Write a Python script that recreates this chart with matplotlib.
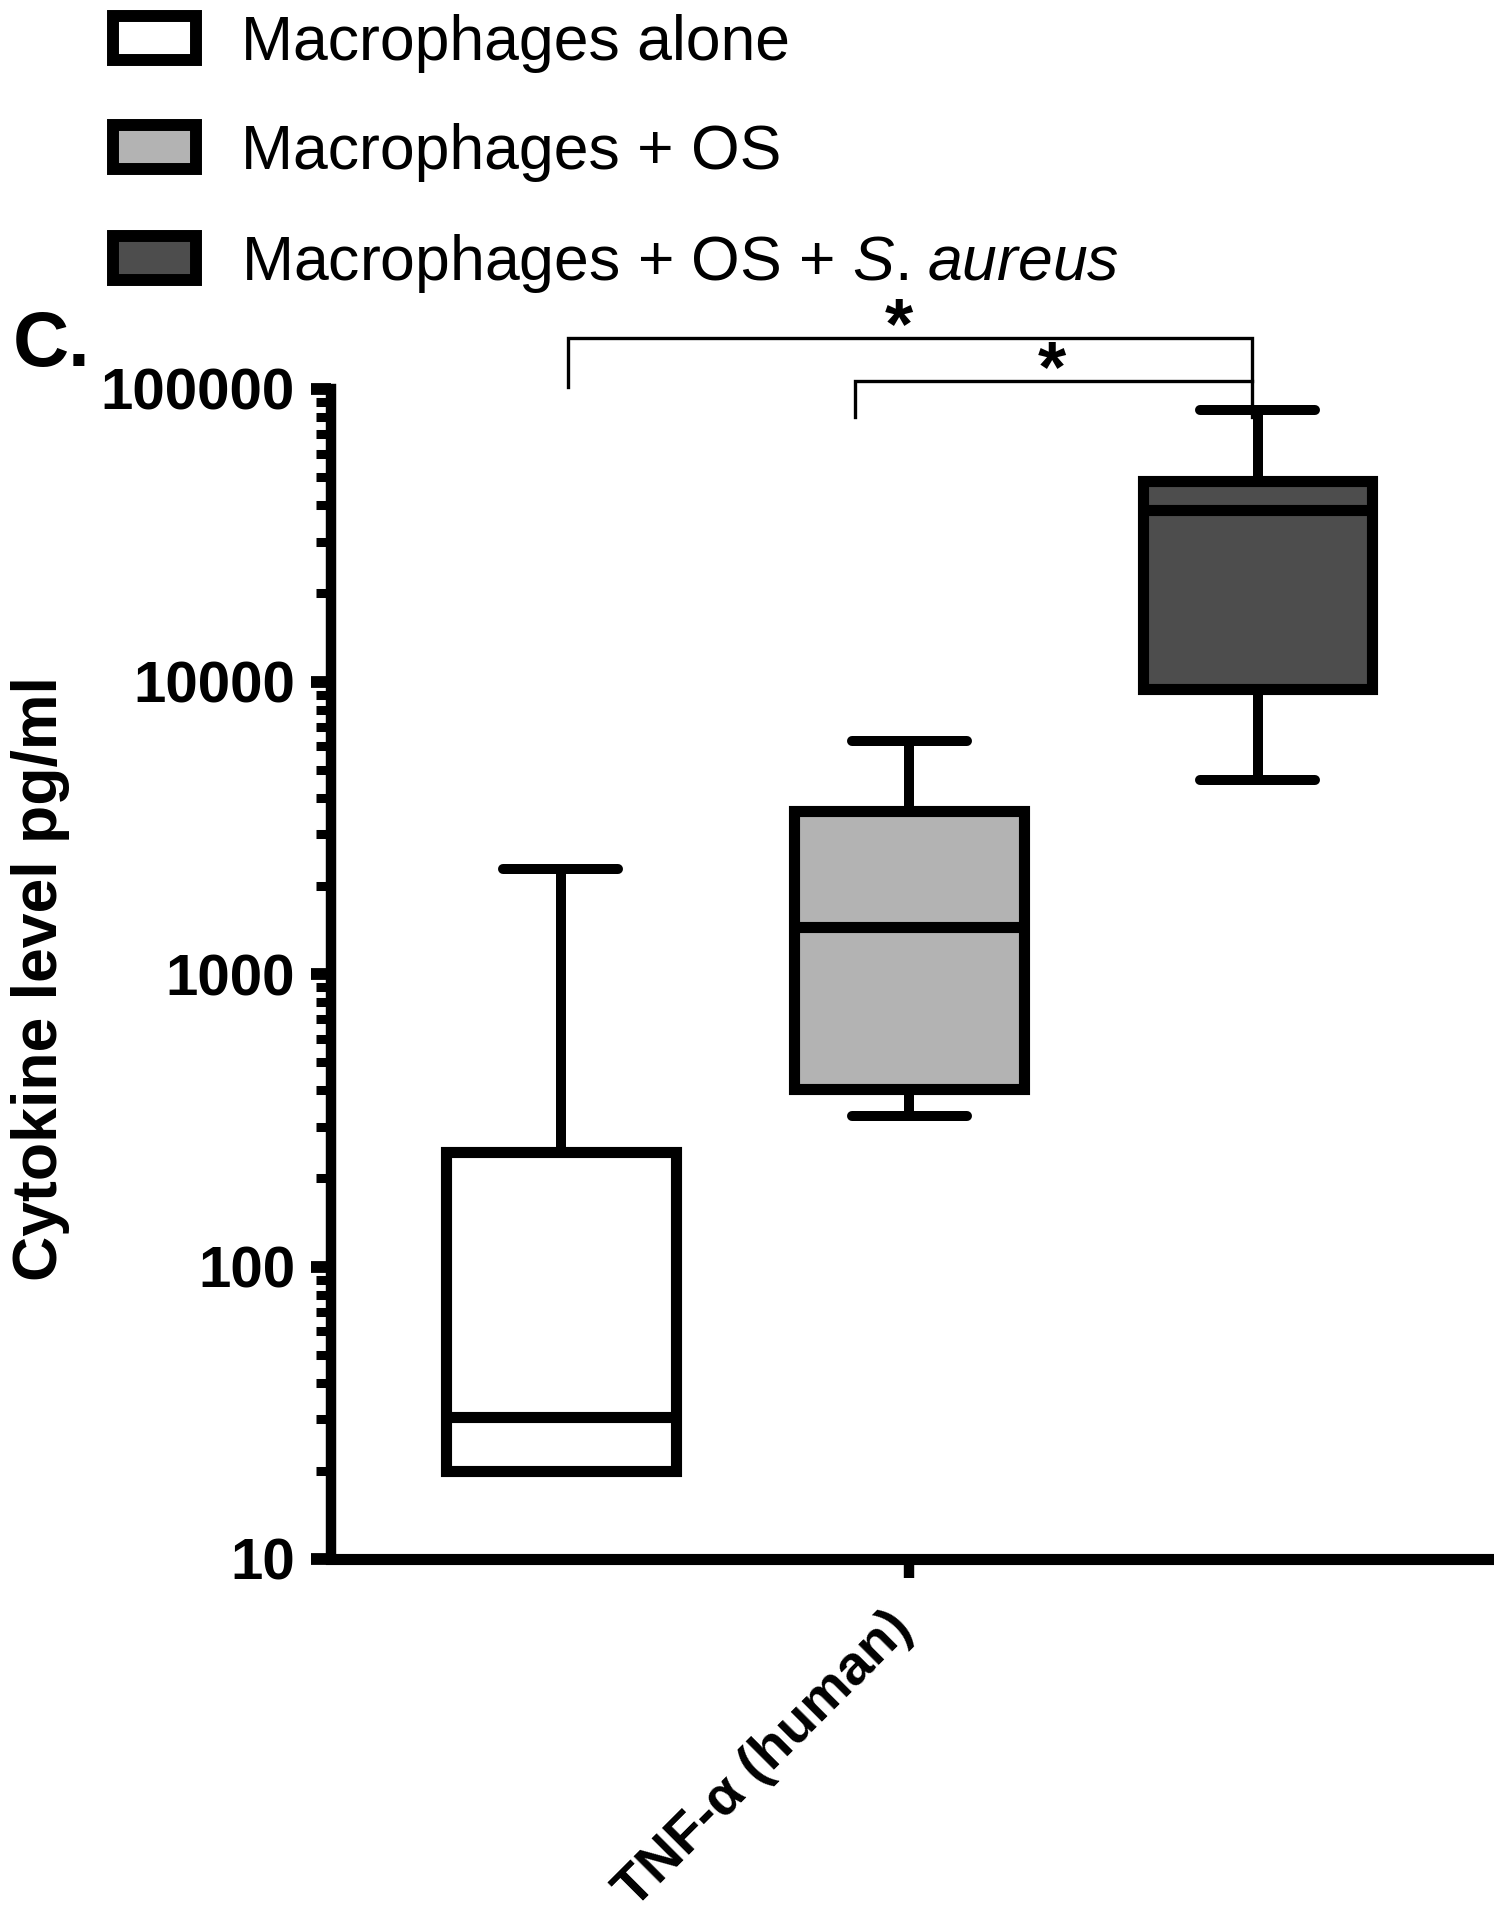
import matplotlib
matplotlib.use("Agg")
import matplotlib.pyplot as plt
from matplotlib.patches import Patch
from matplotlib.transforms import ScaledTranslation
import matplotlib.ticker as mtick

plt.rcParams['font.family'] = ['Liberation Sans', 'DejaVu Sans']
plt.rcParams['mathtext.fontset'] = 'custom'
plt.rcParams['mathtext.rm'] = 'Liberation Sans'
plt.rcParams['mathtext.it'] = 'Liberation Sans:italic'

# Данные (pg/ml)
groups = ['Macrophages alone', 'Macrophages + OS',
          'Macrophages + OS + $\\mathit{S.}\\hspace{0.1}\\mathit{aureus}$']
whisker_low = [20, 327, 4620]
q1 = [20, 404, 9400]
median = [30.5, 1443, 38500]
q3 = [247, 3600, 48400]
whisker_high = [2290, 6240, 84500]
category = 'TNF-α (human)'
y_ticks = [10, 100, 1000, 10000, 100000]

# скобки значимости: (левый x, правый x, верх, низ слева, низ справа)
brackets = [
    (1.02, 2.983, 149000, 101600, 106400),
    (1.845, 2.983, 106400, 80200, 80200),
]
star_x = [1.97, 2.41]

colors = ['white', '#b3b3b3', '#4d4d4d']

fig = plt.figure(figsize=(14.94, 19.2), dpi=100)
ax = fig.add_axes([331 / 1494, 1 - 1559 / 1920, (1492 - 331) / 1494, (1559 - 389) / 1920])

stats = []
for i in range(len(groups)):
    stats.append(dict(whislo=whisker_low[i], q1=q1[i], med=median[i], q3=q3[i],
                      whishi=whisker_high[i], fliers=[]))

lw = 8
bp = ax.bxp(stats, positions=[1, 2, 3], widths=0.66, patch_artist=True,
            showfliers=False,
            boxprops=dict(linewidth=lw, edgecolor='black'),
            medianprops=dict(color='black', linewidth=lw, solid_capstyle='butt'),
            whiskerprops=dict(color='black', linewidth=7.2, solid_capstyle='butt'),
            capprops=dict(color='black', linewidth=7.2, solid_capstyle='round'))
for box, c in zip(bp['boxes'], colors):
    box.set_facecolor(c)
    box.set_joinstyle('miter')

ax.set_yscale('log')
ax.set_ylim(10, 100000)
ax.set_xlim(0.341, 3.673)
ax.set_yticks(y_ticks)
ax.yaxis.set_major_formatter(mtick.FuncFormatter(lambda v, p: '%d' % v))
ax.yaxis.set_minor_locator(mtick.LogLocator(base=10, subs=range(2, 10)))
ax.yaxis.set_minor_formatter(mtick.NullFormatter())
ax.set_xticks([2])
ax.set_xticklabels([category], rotation=45, ha='right', va='top')

for s in ['top', 'right']:
    ax.spines[s].set_visible(False)
ax.spines['left'].set_linewidth(7.5)
ax.spines['bottom'].set_linewidth(8)

ax.tick_params(axis='y', which='major', length=14.4, width=8.5, pad=11.5,
               labelsize=42)
ax.tick_params(axis='y', which='minor', length=10.8, width=6.5)
ax.tick_params(axis='x', which='major', length=14, width=7.5, pad=17, labelsize=40)
for lab in ax.get_yticklabels() + ax.get_xticklabels():
    lab.set_fontweight('bold')
for lab in ax.get_xticklabels():
    lab.set_transform(lab.get_transform() + ScaledTranslation(0.13, 0, fig.dpi_scale_trans))

ax.set_ylabel('Cytokine level pg/ml', fontsize=45, fontweight='bold')
ax.yaxis.set_label_coords(-0.2248, 0.496)

for (x0, x1, top, lb, rb), sx in zip(brackets, star_x):
    ax.plot([x0, x0, x1, x1], [lb, top, top, rb], color='black', lw=2.4,
            clip_on=False, solid_joinstyle='miter')
    ax.annotate('*', xy=(sx, top), xytext=(0, -7), textcoords='offset points',
                ha='center', va='baseline', fontsize=52, fontweight='bold',
                annotation_clip=False)

handles = [Patch(facecolor=c, edgecolor='black', linewidth=8.6) for c in colors]
fig.legend(handles, groups, loc='upper left', bbox_to_anchor=(113 / 1494, 1 - 14 / 1920),
           frameon=False, fontsize=45, handlelength=1.33, handleheight=0.69,
           handletextpad=0.72, labelspacing=0.8, borderpad=0, borderaxespad=0)

fig.text(13 / 1494, 1 - 366 / 1920, 'C.', fontsize=56, fontweight='bold',
         ha='left', va='baseline')

fig.savefig('out.png', dpi=100)
